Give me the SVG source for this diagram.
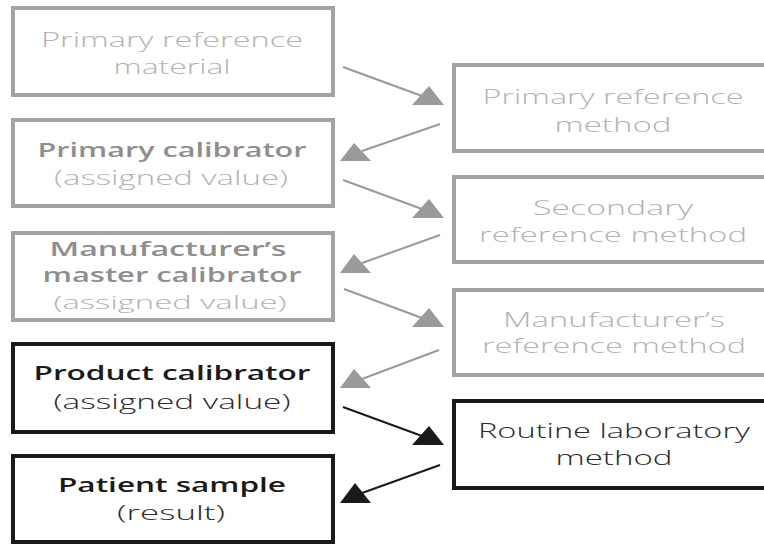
<svg xmlns="http://www.w3.org/2000/svg" width="764" height="544" viewBox="0 0 764 544">
  <style>
    text { font-family: "Open Sans", "DejaVu Sans", sans-serif; font-size: 20px; text-anchor: middle; }
    .g-box { fill: #ffffff; stroke: #a3a3a3; stroke-width: 4; }
    .k-box { fill: #ffffff; stroke: #1a1a1a; stroke-width: 4; }
    .g-txt { fill: #b3b3b3; font-weight: 300; }
    .g-bold { fill: #8e8e8e; font-weight: 600; }
    .k-txt { fill: #2a2a2a; font-weight: 300; }
    .k-bold { fill: #1a1a1a; font-weight: 600; }
    .sm { font-size: 19px; }
    .g-line { stroke: #9a9a9a; stroke-width: 2; fill: none; }
    .k-line { stroke: #1a1a1a; stroke-width: 2; fill: none; }
    .g-head { fill: #9a9a9a; }
    .k-head { fill: #1a1a1a; }
  </style>
  <rect width="764" height="544" fill="#ffffff"/>

  <g id="connectors">
    <line class="g-line" x1="343" y1="67" x2="422" y2="96"/>
    <polygon class="g-head" points="412,105 444,105 429,86"/>
    <line class="g-line" x1="440" y1="124" x2="362" y2="151"/>
    <polygon class="g-head" points="340,161 371,161 354,143"/>

    <line class="g-line" x1="343" y1="180" x2="422" y2="209"/>
    <polygon class="g-head" points="412,218 444,218 429,199"/>
    <line class="g-line" x1="440" y1="235" x2="362" y2="263"/>
    <polygon class="g-head" points="340,273 371,273 354,254"/>

    <line class="g-line" x1="344" y1="289" x2="422" y2="318"/>
    <polygon class="g-head" points="412,327 444,327 429,308"/>
    <line class="g-line" x1="439" y1="350" x2="362" y2="379"/>
    <polygon class="g-head" points="340,388 371,388 354,369"/>

    <line class="k-line" x1="343" y1="407" x2="422" y2="436"/>
    <polygon class="k-head" points="412,445 444,445 429,426"/>
    <line class="k-line" x1="440" y1="465" x2="362" y2="493"/>
    <polygon class="k-head" points="340,503 371,503 355,483"/>
  </g>

  <g id="primary-reference-material">
    <rect class="g-box" x="13" y="8" width="320" height="87"/>
    <text class="g-txt" x="172" y="47" textLength="262" lengthAdjust="spacingAndGlyphs">Primary reference</text>
    <text class="g-txt" x="172" y="74" textLength="117" lengthAdjust="spacingAndGlyphs">material</text>
  </g>

  <g id="primary-calibrator">
    <rect class="g-box" x="13" y="120" width="320" height="86"/>
    <text class="g-bold" x="172" y="157" textLength="269" lengthAdjust="spacingAndGlyphs">Primary calibrator</text>
    <text class="g-txt" x="171" y="185" textLength="234" lengthAdjust="spacingAndGlyphs">(assigned value)</text>
  </g>

  <g id="master-calibrator">
    <rect class="g-box" x="13" y="233" width="320" height="87"/>
    <text class="g-bold sm" x="168" y="256" textLength="237" lengthAdjust="spacingAndGlyphs">Manufacturer’s</text>
    <text class="g-bold sm" x="172" y="282" textLength="259" lengthAdjust="spacingAndGlyphs">master calibrator</text>
    <text class="g-txt sm" x="170" y="309" textLength="233" lengthAdjust="spacingAndGlyphs">(assigned value)</text>
  </g>

  <g id="product-calibrator">
    <rect class="k-box" x="13" y="344" width="320" height="88"/>
    <text class="k-bold" x="172" y="380" textLength="277" lengthAdjust="spacingAndGlyphs">Product calibrator</text>
    <text class="k-txt" x="172" y="409" textLength="237" lengthAdjust="spacingAndGlyphs">(assigned value)</text>
  </g>

  <g id="patient-sample">
    <rect class="k-box" x="13" y="456" width="320" height="86"/>
    <text class="k-bold" x="172" y="492" textLength="228" lengthAdjust="spacingAndGlyphs">Patient sample</text>
    <text class="k-txt" x="171" y="520" textLength="108" lengthAdjust="spacingAndGlyphs">(result)</text>
  </g>

  <g id="primary-reference-method">
    <rect class="g-box" x="454" y="65" width="330" height="86"/>
    <text class="g-txt" x="613" y="104" textLength="261" lengthAdjust="spacingAndGlyphs">Primary reference</text>
    <text class="g-txt" x="613" y="132" textLength="117" lengthAdjust="spacingAndGlyphs">method</text>
  </g>

  <g id="secondary-reference-method">
    <rect class="g-box" x="454" y="177" width="330" height="85"/>
    <text class="g-txt" x="613" y="215" textLength="160" lengthAdjust="spacingAndGlyphs">Secondary</text>
    <text class="g-txt" x="613" y="242" textLength="268" lengthAdjust="spacingAndGlyphs">reference method</text>
  </g>

  <g id="manufacturers-reference-method">
    <rect class="g-box" x="454" y="290" width="330" height="85"/>
    <text class="g-txt" x="614" y="327" textLength="222" lengthAdjust="spacingAndGlyphs">Manufacturer’s</text>
    <text class="g-txt" x="614" y="353" textLength="264" lengthAdjust="spacingAndGlyphs">reference method</text>
  </g>

  <g id="routine-laboratory-method">
    <rect class="k-box" x="454" y="401" width="330" height="87"/>
    <text class="k-txt" x="614" y="438" textLength="272" lengthAdjust="spacingAndGlyphs">Routine laboratory</text>
    <text class="k-txt" x="614" y="465" textLength="117" lengthAdjust="spacingAndGlyphs">method</text>
  </g>
</svg>
